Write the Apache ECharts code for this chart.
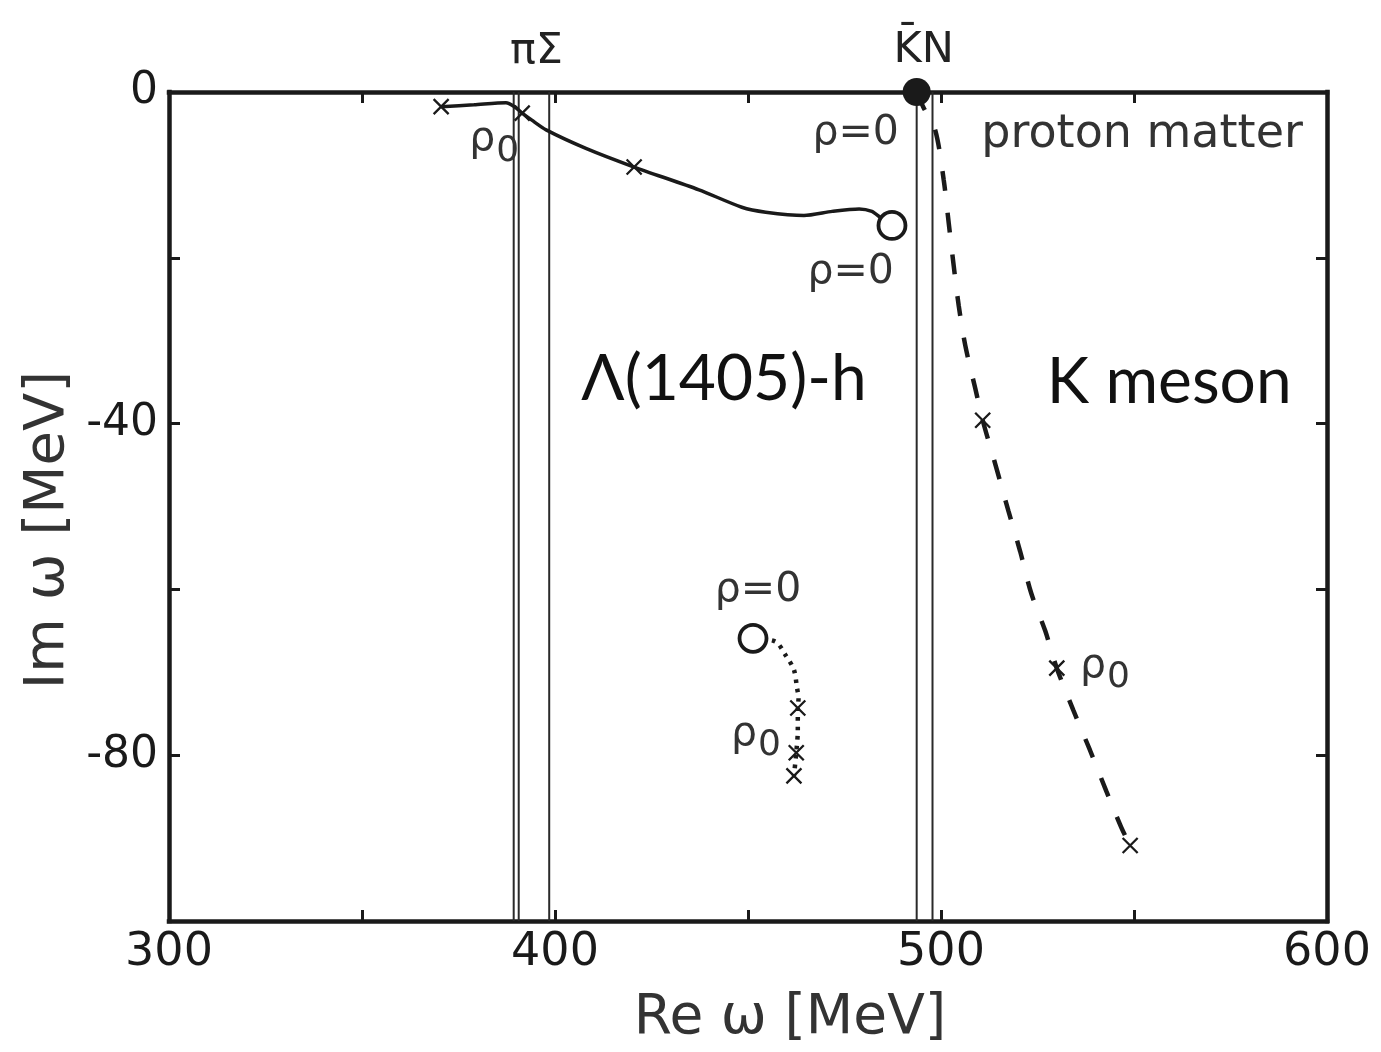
<!DOCTYPE html>
<html>
<head>
<meta charset="utf-8">
<script src="https://cdn.jsdelivr.net/npm/echarts@6/dist/echarts.min.js"></script>
<style>
  html, body { margin: 0; padding: 0; background: #fff; }
  #chart { width: 1381px; height: 1052px; }
</style>
</head>
<body>
<div id="chart"></div>
<script>
// Complex energy plane: Re ω and Im ω, both in MeV
const xTickLabels = [300, 400, 500, 600];
const yTickLabels = [0, -40, -80];

// Two-body thresholds (Re ω)
const piSigmaThresholds = [389.3, 390.6, 398.5];
const kbarNThresholds = [493.7, 497.8];

// Λ(1405)-h pole trajectory in proton matter (solid)
const lambdaHolePath = [
  [370.5, -1.77], [379.0, -1.55], [387.3, -1.3], [389.6, -1.8], [391.5, -2.55],
  [394.0, -3.4], [397.7, -4.57], [408.0, -6.8], [420.5, -9.05], [437.3, -11.8],
  [448.4, -13.9], [454.6, -14.5], [464.5, -14.9], [471.8, -14.4], [478.8, -14.1],
  [482.1, -14.4], [484.2, -15.1], [487.3, -16.1]
];
const lambdaHoleCrosses = [[370.5, -1.77], [391.5, -2.55], [420.5, -9.05]];
const lambdaHoleVacuum = [[487.3, -16.1]];

// Lower pole trajectory (dotted)
const lowerPolePath = [
  [451.3, -65.9], [457.1, -66.3], [459.7, -67.9], [461.9, -69.7], [462.7, -71.9],
  [463.1, -73.1], [462.9, -74.3], [462.9, -77.0], [462.5, -79.7], [461.9, -82.5]
];
const lowerPoleCrosses = [[462.9, -74.3], [462.5, -79.7], [461.9, -82.5]];
const lowerPoleVacuum = [[451.3, -65.9]];

// K meson pole trajectory (dashed)
const kaonPath = [
  [493.7, 0], [495.4, -1.8], [498.5, -4.6], [500.7, -10.6], [502.0, -15.8],
  [503.3, -21.0], [504.6, -25.8], [506.3, -30.6], [508.9, -35.8], [510.8, -39.6],
  [514.5, -45.6], [517.5, -50.6], [520.5, -55.4], [523.4, -60.5], [527.0, -65.0],
  [530.0, -69.5], [534.3, -74.6], [538.6, -79.4], [542.8, -84.3], [546.7, -88.7],
  [549.0, -90.9]
];
const kaonCrosses = [[510.8, -39.6], [530.0, -69.5], [549.0, -90.9]];
const kbarNPoint = [[493.7, 0]];

// Text annotations placed in data coordinates: [text, Re ω, Im ω, style]
const notes = [
  ['πΣ', 395.2, 4.8, 'thr'],
  ['K\u0304N', 495.5, 5.0, 'thr'],
  ['{a|ρ}{b|0}', 377.8, -6.3, 'rho0'],
  ['ρ=0', 477.9, -5.0, 'rho'],
  ['ρ=0', 476.6, -21.7, 'rho'],
  ['ρ=0', 452.6, -60.1, 'rho'],
  ['{a|ρ}{b|0}', 445.6, -78.0, 'rho0'],
  ['{a|ρ}{b|0}', 536.0, -69.8, 'rho0'],
  ['proton matter', 552.1, -5.2, 'big'],
  ['Λ(1405)-h', 443.8, -34.7, 'title'],
  ['K meson', 559.1, -35.0, 'title']
];

const INK = '#1a1a1a';
const SANS = 'DejaVu Sans';

const chart = echarts.init(document.getElementById('chart'), null, { renderer: 'canvas' });

function frameAxis(pos, isX, showLabels) {
  const ax = {
    type: 'value',
    position: pos,
    axisLine: { show: true, onZero: false, lineStyle: { color: INK, width: 4.5, cap: 'square' } },
    axisTick: { show: true, inside: true, length: 11, lineStyle: { color: INK, width: 3 } },
    splitLine: { show: false },
    axisLabel: { show: showLabels }
  };
  if (isX) {
    Object.assign(ax, { min: 300, max: 600, interval: 50 });
    if (showLabels) {
      ax.axisLabel = {
        show: true, margin: 9, fontSize: 46, fontFamily: SANS, color: INK,
        formatter: v => (xTickLabels.includes(v) ? String(v) : '')
      };
    }
  } else {
    Object.assign(ax, { min: -100, max: 0, interval: 20 });
    if (showLabels) {
      ax.axisLabel = {
        show: true, margin: 11, fontSize: 44, fontFamily: SANS, color: INK,
        formatter: v => (yTickLabels.includes(v) ? String(v) : '')
      };
    }
  }
  return ax;
}

const crossSymbol = 'path://M0,0L10,10M10,0L0,10';

const thresholdSeries = piSigmaThresholds.concat(kbarNThresholds).map(x => ({
  type: 'line',
  data: [[x, 0], [x, -100]],
  symbol: 'none',
  silent: true,
  lineStyle: { color: '#2a2a2a', width: 2 },
  z: 1
}));

function crosses(data) {
  return {
    type: 'scatter', data, symbol: crossSymbol, symbolSize: 15,
    itemStyle: { color: 'none', borderColor: INK, borderWidth: 2.3, opacity: 1 },
    z: 4, clip: false
  };
}

chart.setOption({
  animation: false,
  backgroundColor: '#ffffff',
  grid: { left: 169, right: 54, top: 92, bottom: 131, containLabel: false },
  xAxis: [frameAxis('bottom', true, true), frameAxis('top', true, false)],
  yAxis: [frameAxis('left', false, true), frameAxis('right', false, false)],
  series: thresholdSeries.concat([
    {
      type: 'line', data: lambdaHolePath, symbol: 'none', smooth: 0.25,
      lineStyle: { color: INK, width: 3.5 }, z: 3
    },
    {
      type: 'line', data: lowerPolePath, symbol: 'none', smooth: 0.3,
      lineStyle: { color: INK, width: 4.5, type: [3.5, 6] }, z: 3
    },
    {
      type: 'line', data: kaonPath, symbol: 'none', smooth: 0.3,
      lineStyle: { color: INK, width: 4.5, type: [20, 22] }, z: 3
    },
    crosses(lambdaHoleCrosses),
    crosses(lowerPoleCrosses),
    crosses(kaonCrosses),
    {
      type: 'scatter', data: lambdaHoleVacuum.concat(lowerPoleVacuum), symbol: 'circle', symbolSize: 27,
      itemStyle: { color: '#ffffff', borderColor: INK, borderWidth: 3.8, opacity: 1 }, z: 5, clip: false
    },
    {
      type: 'scatter', data: kbarNPoint, symbol: 'circle', symbolSize: 28,
      itemStyle: { color: INK, opacity: 1 }, z: 6, clip: false
    }
  ])
});

// Annotations, positioned from data coordinates
const noteStyles = {
  thr:   { fontSize: 43, fontFamily: SANS, fill: '#222' },
  rho:   { fontSize: 41, fontFamily: SANS, fill: '#333' },
  big:   { fontSize: 46, fontFamily: SANS, fill: '#333' },
  title: { fontSize: 64, fontFamily: 'Lato', fill: '#111' }
};
const graphics = notes.map(([text, x, y, kind]) => {
  const [px, py] = chart.convertToPixel({ xAxisIndex: 0, yAxisIndex: 0 }, [x, y]);
  if (kind === 'rho0') {
    return {
      type: 'text', x: px, y: py, z: 10,
      style: {
        text, align: 'left', verticalAlign: 'middle', fill: '#333',
        rich: {
          a: { fontSize: 41, fontFamily: SANS, fill: '#333', verticalAlign: 'bottom', padding: [0, 1, 9, 0] },
          b: { fontSize: 36, fontFamily: SANS, fill: '#333', verticalAlign: 'bottom' }
        }
      }
    };
  }
  return {
    type: 'text', x: px, y: py, z: 10,
    style: Object.assign({ text, align: 'center', verticalAlign: 'middle' }, noteStyles[kind])
  };
});

// Axis titles
graphics.push({
  type: 'text', x: 790, y: 1019, z: 10,
  style: { text: 'Re ω [MeV]', align: 'center', verticalAlign: 'middle', fontSize: 55, fontFamily: SANS, fill: '#333' }
});
graphics.push({
  type: 'text', x: 48, y: 530, rotation: Math.PI / 2, z: 10,
  style: { text: 'Im ω [MeV]', align: 'center', verticalAlign: 'middle', fontSize: 56, fontFamily: SANS, fill: '#333' }
});

chart.setOption({ graphic: graphics });
</script>
</body>
</html>
